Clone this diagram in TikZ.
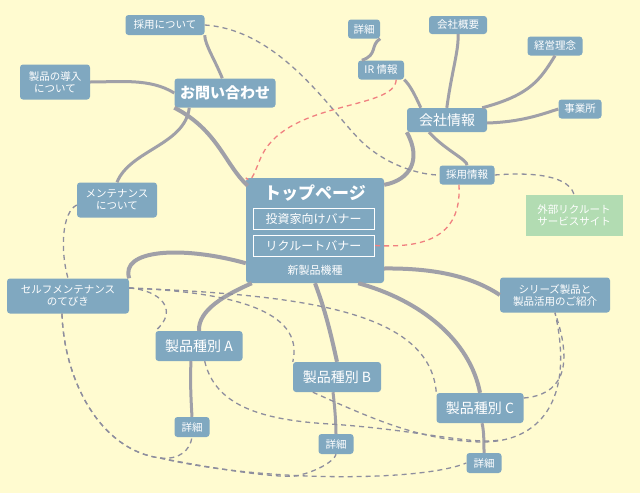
\documentclass[tikz,border=0pt]{standalone}
\usepackage{fontspec}
\setmainfont{Noto Sans CJK JP}
\definecolor{bg}{HTML}{FFFBD0}
\definecolor{nb}{HTML}{80A8C0}
\definecolor{gr}{HTML}{A0A0A8}
\definecolor{dg}{HTML}{8E8E9E}
\definecolor{rd}{HTML}{F08080}
\definecolor{gn}{HTML}{B2DCB2}
\begin{document}
\begin{tikzpicture}[x=1pt,y=-1pt,
  nd/.style={fill=nb,rounded corners=3pt,text=white,inner sep=2.5pt,font=\fontsize{10.5}{12}\selectfont,align=center},
  bn/.style={nd,font=\fontsize{15}{17}\selectfont\bfseries,inner sep=4pt},
  thk/.style={draw=gr,line width=4pt},
  thn/.style={draw=gr,line width=3pt},
  dsh/.style={draw=dg,line width=1.3pt,dash pattern=on 5pt off 4pt},
  rdsh/.style={draw=rd,line width=1.3pt,dash pattern=on 5pt off 4pt}]
\fill[bg] (0,0) rectangle (640,493);
\useasboundingbox (0,0) rectangle (640,493);
% nodes
\node[nd,minimum width=79pt,minimum height=20pt] (saiyou) at (165,25) {採用について};
\node[nd,minimum width=70pt,minimum height=35pt] (dounyu) at (55,82) {製品の導入\\について};
\node[bn,minimum width=101pt,minimum height=29pt] (toi) at (225,93) {お問い合わせ};
\node[nd,minimum width=80pt,minimum height=35pt] (maint) at (117,200) {メンテナンス\\について};
\node[nd,minimum width=122pt,minimum height=35pt] (self) at (68,296) {セルフメンテナンス\\のてびき};
\node[bn,minimum width=87pt,minimum height=30pt,font=\fontsize{14}{16}\selectfont] (A) at (199,346) {製品種別 A};
\node[bn,minimum width=88pt,minimum height=30pt,font=\fontsize{14}{16}\selectfont] (B) at (337,377) {製品種別 B};
\node[bn,minimum width=87pt,minimum height=30pt,font=\fontsize{14}{16}\selectfont] (C) at (480,408) {製品種別 C};
\node[nd,minimum width=35pt,minimum height=20pt] (dA) at (192,427) {詳細};
\node[nd,minimum width=35pt,minimum height=20pt] (dB) at (336,444) {詳細};
\node[nd,minimum width=35pt,minimum height=20pt] (dC) at (484,463) {詳細};
\node[nd,minimum width=110pt,minimum height=35pt] (series) at (555,295) {シリーズ製品と\\製品活用のご紹介};
\node[bn,minimum width=80pt,minimum height=24pt,font=\fontsize{14}{16}\selectfont] (kaisha) at (447,120) {会社情報};
\node[nd,minimum width=32pt,minimum height=19pt] (dIR) at (364,29) {詳細};
\node[nd,minimum width=46pt,minimum height=19pt] (ir) at (381,70) {IR 情報};
\node[nd,minimum width=58pt,minimum height=18pt] (gaiyou) at (458,25) {会社概要};
\node[nd,minimum width=55pt,minimum height=19pt] (rinen) at (555,46) {経営理念};
\node[nd,minimum width=43pt,minimum height=19pt] (jigyo) at (580,109) {事業所};
\node[nd,minimum width=55pt,minimum height=19pt] (sj) at (467,175) {採用情報};
\node[nd,fill=gn,rounded corners=0pt,minimum width=97pt,minimum height=41pt] (gaibu) at (574,215) {外部リクルート\\サービスサイト};
\node[nd,minimum width=138pt,minimum height=105pt] (top) at (315,230.5) {};
\node[text=white,font=\fontsize{17}{19}\selectfont\bfseries] (ttl) at (315,193) {トップページ};
\node[draw=white,line width=0.8pt,text=white,minimum width=121pt,minimum height=21pt,inner sep=1pt,font=\fontsize{12}{14}\selectfont] (ban1) at (313.5,218.5) {投資家向けバナー};
\node[draw=white,line width=0.8pt,text=white,minimum width=121pt,minimum height=21pt,inner sep=1pt,font=\fontsize{12}{14}\selectfont] (ban2) at (313.5,245.5) {リクルートバナー};
\node[text=white,font=\fontsize{11}{13}\selectfont] (shin) at (315,270) {新製品機種};
% solid connectors
\begin{scope}[on background layer/.style={}]
\end{scope}
\path[thk] (top.north west) ++(2,8) .. controls (225,165) and (218,130) .. (toi.south west) ++(45,0);
\path[thn] (toi.north west) ++(48,0) .. controls (215,60) and (205,45) .. (saiyou.south east) ++(-5,0);
\path[thn] (toi.west) .. controls (150,78) and (120,82) .. (dounyu.east);
\path[thn] (toi.south west) ++(15,0) .. controls (185,145) and (130,150) .. (maint.north);
\path[thk] (top.north east) ++(0,7) .. controls (410,180) and (422,160) .. (kaisha.south west) ++(20,0);
\path[thn] (kaisha.north west) ++(14,0) .. controls (415,95) and (410,85) .. (ir.south east) ++(-3,0);
\path[thn] (ir.north west) ++(4,0) .. controls (378,55) and (370,45) .. (dIR.south east) ++(-5,0);
\path[thn] (kaisha.north west) ++(40,0) .. controls (452,70) and (459,50) .. (gaiyou.south);
\path[thn] (kaisha.north east) ++(-5,0) .. controls (530,95) and (540,80) .. (rinen.south) ++(-14,0);
\path[thn] (kaisha.east) ++(0,3) .. controls (520,122) and (540,115) .. (jigyo.west);
\path[thn] (kaisha.south) ++(-18,0) .. controls (445,150) and (468,160) .. (sj.north);
\path[thk] (top.south west) ++(0,-20) .. controls (180,245) and (120,250) .. (self.north east) ++(-38,0);
\path[thk] (top.south west) ++(6,0) .. controls (225,295) and (198,310) .. (A.north);
\path[thk] (top.south) ++(0,0) .. controls (325,310) and (330,330) .. (B.north) ++(-4,0);
\path[thk] (top.south east) ++(-26,0) .. controls (420,300) and (470,340) .. (C.north) ++(-2,0);
\path[thk] (top.east) ++(0,38) .. controls (430,268) and (470,275) .. (series.west) ++(0,-3);
\path[thn] (A.south) ++(-8,0) .. controls (190,380) and (191,400) .. (dA.north);
\path[thn] (B.south) ++(-4,0) .. controls (334,400) and (336,420) .. (dB.north);
\path[thn] (C.south) ++(2,0) .. controls (484,430) and (484,445) .. (dC.north);
% dashed
\path[dsh] (saiyou.east) .. controls (280,30) and (330,110) .. (360,140) .. controls (385,165) and (420,175) .. (sj.west);
\path[dsh] (sj.east) .. controls (520,173) and (567,172) .. (gaibu.north) ++(-7,0);
\path[dsh] (maint.west) ++(0,5) .. controls (62,212) and (60,250) .. (self.north) ++(-10,0);
\path[dsh] (self.south) ++(-6,0) .. controls (64,380) and (100,450) .. (160,458) .. controls (180,460) and (190,450) .. (dA.south);
\path[dsh] (self.south) ++(-6,0) .. controls (64,380) and (100,450) .. (160,458) .. controls (220,470) and (290,480) .. (300,475) .. controls (320,470) and (335,460) .. (dB.south);
\path[dsh] (160,458) .. controls (260,482) and (420,482) .. (dC.west);
\path[dsh] (self.east) ++(0,-8) .. controls (160,290) and (180,310) .. (A.north west) ++(24,0);
\path[dsh] (self.east) ++(0,-8) .. controls (230,292) and (305,310) .. (B.north west) ++(24,0);
\path[dsh] (self.east) ++(0,-8) .. controls (300,295) and (430,310) .. (C.north west) ++(18,0);
\path[dsh] (A.south east) ++(-38,0) .. controls (215,405) and (260,420) .. (330,424) .. controls (420,430) and (470,445) .. (500,440);
\path[dsh] (B.south west) ++(20,0) .. controls (375,420) and (420,440) .. (480,442) .. controls (540,443) and (575,400) .. (series.south) ++(23,0);
\path[dsh] (C.east) ++(0,-10) .. controls (560,395) and (575,370) .. (series.south) ++(23,0);
\path[rdsh] (ir.south east) ++(-8,0) .. controls (395,110) and (290,100) .. (262,155) .. controls (255,170) and (252,185) .. (top.north west) ++(6,25);
\path[rdsh] (sj.south) ++(-8,0) .. controls (462,240) and (420,248) .. (ban2.east);
\end{tikzpicture}
\end{document}
